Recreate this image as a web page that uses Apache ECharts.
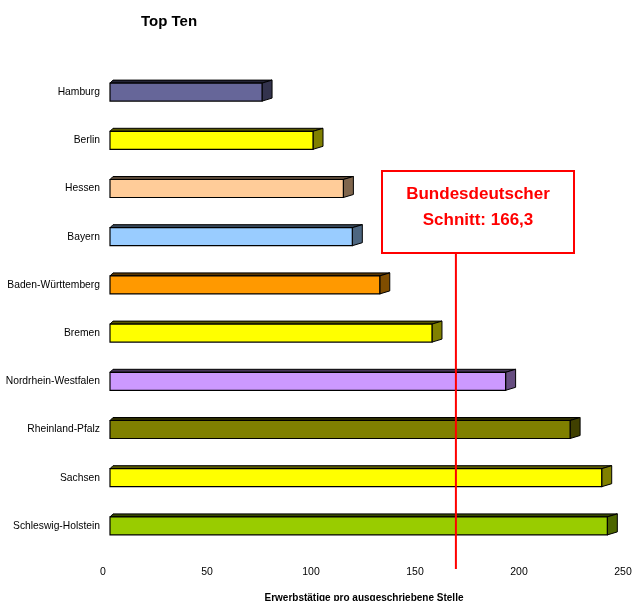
<!DOCTYPE html>
<html>
<head>
<meta charset="utf-8">
<script src="https://cdn.jsdelivr.net/npm/echarts@6/dist/echarts.min.js"></script>
<style>
  html, body { margin: 0; padding: 0; background: #ffffff; }
  #chart { width: 635px; height: 601px; }
</style>
</head>
<body>
<div id="chart"></div>
<script>
// Bundesländer, sorted from top to bottom as drawn
const states = [
  'Hamburg', 'Berlin', 'Hessen', 'Bayern', 'Baden-Württemberg',
  'Bremen', 'Nordrhein-Westfalen', 'Rheinland-Pfalz', 'Sachsen', 'Schleswig-Holstein'
];
// Erwerbstätige pro ausgeschriebene Stelle
const workersPerVacancy = [73.1, 97.6, 112.2, 116.5, 129.7, 154.8, 190.2, 221.2, 236.4, 239.1];
// front-face colour of each bar
const barColors = [
  '#666699', '#FFFF00', '#FFCC99', '#99CCFF', '#FF9900',
  '#FFFF00', '#CC99FF', '#808000', '#FFFF00', '#99CC00'
];
const xTicks = [0, 50, 100, 150, 200, 250];
const nationalAverage = 166.3;

const FONT = '"Liberation Sans", Arial, sans-serif';

function shade(hex, f) {
  const n = parseInt(hex.slice(1), 16);
  const r = Math.round(((n >> 16) & 255) * f);
  const g = Math.round(((n >> 8) & 255) * f);
  const b = Math.round((n & 255) * f);
  return 'rgb(' + r + ',' + g + ',' + b + ')';
}

// 3D-looking bar: front rectangle, slanted top face and a right side face
function renderBox(params, api) {
  const v = api.value(0);
  const idx = api.value(1);
  const start = api.coord([0, idx]);
  const end = api.coord([v, idx]);
  const h = 18, dx = 10, dy = -3;
  const x0 = start[0], x1 = end[0];
  const y0 = start[1] - h / 2, y1 = start[1] + h / 2;
  const color = barColors[idx];
  return {
    type: 'group',
    children: [
      {
        type: 'polygon',
        shape: { points: [[x0, y0], [x0 + 3, y0 + dy], [x1 + dx, y0 + dy], [x1, y0]] },
        style: { fill: shade(color, 0.35), stroke: '#000', lineWidth: 1 }
      },
      {
        type: 'polygon',
        shape: { points: [[x1, y0], [x1 + dx, y0 + dy], [x1 + dx, y1 + dy], [x1, y1]] },
        style: { fill: shade(color, 0.5), stroke: '#000', lineWidth: 1 }
      },
      {
        type: 'rect',
        shape: { x: x0, y: y0, width: x1 - x0, height: h },
        style: { fill: color, stroke: '#000', lineWidth: 1.2 }
      }
    ]
  };
}

const chart = echarts.init(document.getElementById('chart'), null, { renderer: 'canvas' });

chart.setOption({
  backgroundColor: '#ffffff',
  animation: false,
  title: {
    text: 'Top Ten',
    left: 136,
    top: 9,
    textStyle: { fontFamily: FONT, fontSize: 15, fontWeight: 'bold', color: '#000' }
  },
  grid: {
    left: 110, top: 68, width: 520, height: 482,
    containLabel: false,
    outerBoundsMode: 'none'
  },
  xAxis: {
    type: 'value',
    min: xTicks[0],
    max: xTicks[xTicks.length - 1],
    interval: xTicks[1] - xTicks[0],
    axisLine: { show: false },
    axisTick: { show: false },
    splitLine: { show: false },
    axisLabel: {
      fontFamily: FONT, fontSize: 10.5, color: '#000', margin: 17,
      padding: [0, 14, 0, 0]
    },
    name: 'Erwerbstätige pro ausgeschriebene Stelle',
    nameLocation: 'middle',
    nameGap: 43,
    nameTextStyle: {
      fontFamily: FONT, fontSize: 10, fontWeight: 'bold', color: '#000',
      padding: [0, 12, 0, 0]
    }
  },
  yAxis: {
    type: 'category',
    data: states,
    inverse: true,
    axisLine: { show: false },
    axisTick: { show: false },
    splitLine: { show: false },
    axisLabel: { fontFamily: FONT, fontSize: 10.3, color: '#000', margin: 10 }
  },
  series: [{
    type: 'custom',
    renderItem: renderBox,
    encode: { x: 0, y: 1 },
    data: workersPerVacancy.map((v, i) => [v, i])
  }]
});

// Average marker: vertical line at the national value plus its labelled box
const avgX = chart.convertToPixel({ xAxisIndex: 0 }, nationalAverage);
chart.setOption({
  graphic: [
    {
      type: 'line',
      z: 100,
      shape: { x1: avgX, y1: 253, x2: avgX, y2: 569 },
      style: { stroke: '#ff0000', lineWidth: 2 }
    },
    {
      type: 'rect',
      z: 100,
      shape: { x: 382, y: 171, width: 192, height: 82 },
      style: { fill: '#ffffff', stroke: '#ff0000', lineWidth: 2 }
    },
    {
      type: 'text',
      z: 101,
      x: 478,
      y: 207,
      style: {
        text: 'Bundesdeutscher\nSchnitt: ' + nationalAverage.toFixed(1).replace('.', ','),
        fill: '#ff0000',
        font: 'bold 17px ' + FONT,
        align: 'center',
        verticalAlign: 'middle',
        lineHeight: 26
      }
    }
  ]
});
</script>
</body>
</html>
